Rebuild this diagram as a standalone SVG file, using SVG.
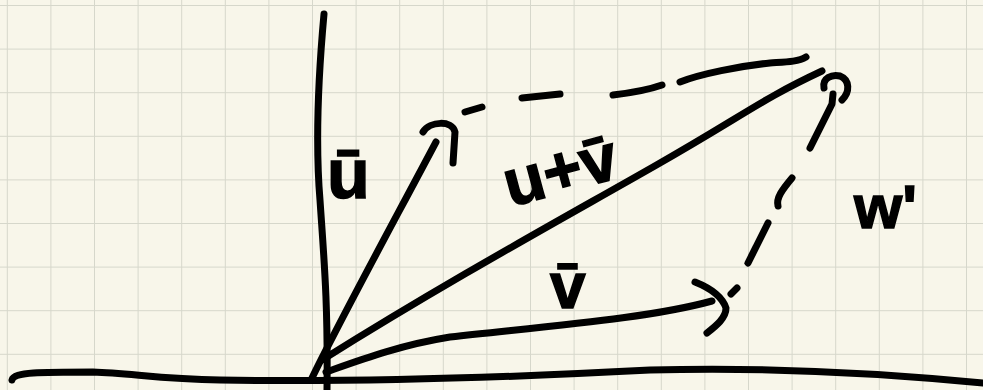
<svg xmlns="http://www.w3.org/2000/svg" width="983" height="390" viewBox="0 0 983 390">
<defs>
<pattern id="grid" x="6.8" y="5" width="43.6" height="43.6" patternUnits="userSpaceOnUse">
<path d="M0,0 V43.6 M0,0 H43.6" fill="none" stroke="#d6d7cb" stroke-width="2"/>
</pattern>
<style>
.ink{fill:none;stroke:#000;stroke-width:7;stroke-linecap:round;stroke-linejoin:round}
.lbl{font-family:"Liberation Sans",Arial,sans-serif;font-weight:bold;fill:#000;stroke:#000;stroke-width:1.5}
</style>
</defs>
<rect width="983" height="390" fill="#f8f6ea"/>
<rect width="983" height="390" fill="url(#grid)"/>
<g id="axes">
<path class="ink" d="M324,14 C318,80 315,140 320,200 C324,260 328,300 327,390"/>
<path class="ink" d="M12,380 C14,372 40,372 93,372 C130,373 160,379 220,380 C350,382 500,378 650,370 C760,367 880,373 983,383"/>
</g>
<g id="connectors">
<path id="vec-u" class="ink" d="M312,378 C340,320 392,225 436,142"/>
<path class="ink" d="M423,132 C430,121 452,120 455,132 L453,163"/>
<path id="vec-uv" class="ink" d="M322,360 C450,280 560,220 653,167 S760,100 822,71"/>
<path class="ink" d="M824,88 C822,78 832,74 840,76 C850,80 850,92 842,100"/>
<path id="vec-v" class="ink" d="M326,372 C360,360 400,345 450,337 C560,325 650,318 712,301"/>
<path class="ink" d="M695,282 C710,288 722,296 726,308 C726,318 716,326 707,333"/>
<g id="dash-top">
<path class="ink" d="M465,112 L482,107"/>
<path class="ink" d="M522,98 L560,94"/>
<path class="ink" d="M613,95 C630,93 648,90 662,85"/>
<path class="ink" d="M680,82 C700,74 740,66 770,63 C785,62 798,62 806,57"/>
</g>
<g id="dash-right">
<path class="ink" d="M833,94 L832,104 L810,148"/>
<path class="ink" d="M778,206 C776,198 782,190 792,178"/>
<path class="ink" d="M748,263 L768,223"/>
<path class="ink" d="M731,294 L737,288"/>
</g>
</g>
<g id="labels">
<text class="lbl" x="327" y="198" font-size="70">ū</text>
<text class="lbl" font-size="66" text-anchor="middle" transform="translate(566,192) rotate(-15)">u+v̄</text>
<text class="lbl" x="550" y="308" font-size="64">v̄</text>
<text class="lbl" x="854" y="228" font-size="62">w'</text>
</g>
</svg>
